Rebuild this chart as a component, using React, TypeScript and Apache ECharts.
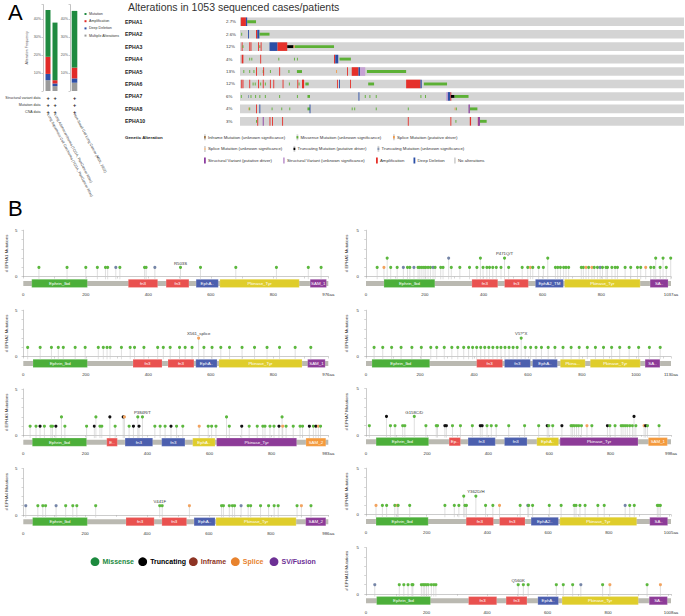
import React, { useEffect, useRef } from 'react';
import * as echarts from 'echarts';

const FONT = 'Liberation Sans, Arial, Helvetica, sans-serif';

// ---------------- Panel A: alteration frequency bars ----------------
const STUDIES = [
  'Lung Squamous Cell Carcinoma (TCGA, PanCancer Atlas)',
  'Lung Adenocarcinoma (TCGA, PanCancer Atlas)',
  'Non-Small Cell Lung Cancer (MSK, 2022)',
];
const FREQ_MULTI = [6.0, 2.7, 4.6];
const FREQ_DEL = [3.5, 1.5, 2.4];
const FREQ_AMP = [9.5, 1.8, 6.0];
const FREQ_MUT = [26.0, 32.0, 31.5];
const FREQ_LEGEND = ['Mutation', 'Amplification', 'Deep Deletion', 'Multiple Alterations'];
const DATA_ROWS = ['Structural variant data', 'Mutation data', 'CNA data'];

// ---------------- Panel A: oncoprint ----------------
const N_SAMPLES = 1053;
const ONCO_GENES = ['EPHA1', 'EPHA2', 'EPHA3', 'EPHA4', 'EPHA5', 'EPHA6', 'EPHA7', 'EPHA8', 'EPHA10'];
const ONCO_PCT = ['2.7%', '2.6%', '12%', '4%', '13%', '12%', '6%', '4%', '3%'];
// [startSample, endSample, type]
const ONCO_EPHA1 = [[2, 14, 'amp'], [14, 17, 'del'], [17, 38, 'mis']];
const ONCO_EPHA2 = [[3, 4, 'mis'], [19, 20, 'del'], [38, 41, 'amp'], [41, 46, 'del'], [46, 70, 'mis']];
const ONCO_EPHA3 = [[4, 5, 'amp'], [6, 7, 'mis'], [22, 23, 'amp'], [25, 26, 'amp'], [43, 44, 'amp'], [46, 47, 'mis'], [49, 50, 'amp'], [70, 89, 'del'], [89, 112, 'amp'], [112, 127, 'trunc'], [127, 130, 'splice'], [130, 223, 'mis']];
const ONCO_EPHA4 = [[4, 8, 'amp'], [22, 23, 'mis'], [27, 28, 'mis'], [48, 49, 'amp'], [91, 92, 'mis'], [128, 129, 'mis'], [135, 136, 'mis'], [223, 226, 'amp'], [226, 233, 'del'], [236, 263, 'mis']];
const ONCO_EPHA5 = [[8, 9, 'mis'], [22, 23, 'mis'], [32, 33, 'mis'], [38, 39, 'amp'], [54, 55, 'mis'], [55, 56, 'amp'], [71, 72, 'mis'], [93, 94, 'amp'], [115, 116, 'mis'], [135, 147, 'mis'], [228, 229, 'splice'], [254, 255, 'amp'], [265, 281, 'amp'], [281, 285, 'del'], [285, 297, 'sv2'], [301, 394, 'mis']];
const ONCO_EPHA6 = [[3, 4, 'amp'], [6, 7, 'amp'], [22, 23, 'amp'], [30, 31, 'mis'], [35, 36, 'mis'], [43, 44, 'amp'], [48, 49, 'mis'], [54, 55, 'amp'], [59, 60, 'mis'], [71, 72, 'amp'], [79, 80, 'amp'], [101, 102, 'amp'], [116, 117, 'mis'], [136, 137, 'amp'], [139, 140, 'mis'], [147, 152, 'amp'], [155, 163, 'mis'], [230, 231, 'amp'], [235, 236, 'del'], [261, 262, 'amp'], [304, 318, 'mis'], [394, 428, 'amp'], [428, 431, 'del'], [436, 491, 'mis']];
const ONCO_EPHA7 = [[2, 3, 'mis'], [19, 20, 'trunc2'], [25, 26, 'mis'], [36, 37, 'mis'], [46, 47, 'mis'], [59, 60, 'mis'], [93, 94, 'mis'], [135, 136, 'mis'], [160, 166, 'mis'], [281, 282, 'del'], [296, 297, 'mis'], [307, 308, 'mis'], [322, 323, 'mis'], [428, 429, 'mis'], [439, 440, 'mis'], [489, 493, 'sv2'], [493, 499, 'del'], [499, 500, 'amp'], [500, 509, 'trunc'], [509, 542, 'mis']];
const ONCO_EPHA8 = [[20, 21, 'splice'], [22, 23, 'mis'], [38, 39, 'amp'], [46, 47, 'del'], [75, 76, 'mis'], [98, 99, 'mis'], [117, 118, 'mis'], [160, 166, 'mis'], [165, 166, 'del'], [265, 266, 'mis'], [271, 272, 'mis'], [322, 323, 'mis'], [398, 399, 'mis'], [509, 510, 'splice'], [512, 513, 'mis'], [542, 545, 'sv'], [545, 563, 'mis']];
const ONCO_EPHA10 = [[38, 39, 'mis'], [41, 42, 'amp'], [54, 55, 'sv'], [70, 71, 'amp'], [76, 77, 'amp'], [100, 101, 'amp'], [398, 399, 'amp'], [499, 500, 'amp'], [511, 512, 'mis'], [545, 548, 'amp'], [564, 565, 'amp'], [565, 569, 'sv'], [569, 585, 'mis']];
const ONCO_EVENTS = [ONCO_EPHA1, ONCO_EPHA2, ONCO_EPHA3, ONCO_EPHA4, ONCO_EPHA5, ONCO_EPHA6, ONCO_EPHA7, ONCO_EPHA8, ONCO_EPHA10];

const ONCO_LEGEND = [
  [['inframe', 'Inframe Mutation (unknown significance)'], ['mis', 'Missense Mutation (unknown significance)'], ['splice', 'Splice Mutation (putative driver)']],
  [['splice2', 'Splice Mutation (unknown significance)'], ['trunc', 'Truncating Mutation (putative driver)'], ['trunc2', 'Truncating Mutation (unknown significance)']],
  [['sv', 'Structural Variant (putative driver)'], ['sv2', 'Structural Variant (unknown significance)'], ['amp', 'Amplification'], ['del', 'Deep Deletion'], ['none', 'No alterations']],
];
const ONCO_LEGEND_X = [[204, 296.5, 393], [204, 293.5, 377.5], [204, 283, 376, 413.5, 454]];

// ---------------- Panel B: lollipop plots ----------------
const LOLLI_GENES = ['EPHA1', 'EPHA2', 'EPHA3', 'EPHA4', 'EPHA5', 'EPHA6', 'EPHA7', 'EPHA8', 'EPHA10'];
const LOLLI_LEN = [976, 976, 983, 986, 1037, 1130, 998, 1005, 1008];

// mutations: [aa position, count, type]  (M missense, T truncating, S splice, O other)
const MUT_EPHA1 = [[50, 1, 'M'], [140, 1, 'M'], [200, 1, 'M'], [237, 1, 'M'], [263, 1, 'M'], [270, 1, 'M'], [296, 1, 'O'], [309, 1, 'M'], [388, 1, 'M'], [393, 1, 'M'], [421, 1, 'O'], [503, 1, 'M'], [567, 1, 'M'], [680, 1, 'M'], [810, 1, 'M'], [912, 1, 'M'], [953, 1, 'M']];
const MUT_EPHA2 = [[14, 1, 'M'], [54, 1, 'M'], [90, 1, 'M'], [112, 1, 'M'], [128, 1, 'M'], [166, 1, 'M'], [198, 1, 'M'], [240, 1, 'M'], [256, 1, 'M'], [268, 1, 'M'], [278, 1, 'M'], [314, 1, 'M'], [342, 1, 'M'], [356, 1, 'M'], [386, 1, 'M'], [430, 1, 'M'], [448, 1, 'M'], [470, 1, 'M'], [500, 1, 'M'], [518, 1, 'M'], [540, 1, 'M'], [561, 2, 'S'], [578, 1, 'M'], [604, 1, 'M'], [632, 1, 'M'], [660, 1, 'M'], [700, 1, 'M'], [740, 1, 'M'], [780, 1, 'M'], [820, 1, 'M'], [870, 1, 'M'], [920, 1, 'M']];
const MUT_EPHA3 = [[22, 1, 'M'], [41, 1, 'M'], [54, 1, 'T'], [68, 1, 'M'], [89, 1, 'M'], [94, 1, 'M'], [105, 1, 'T'], [123, 2, 'M'], [134, 1, 'M'], [204, 1, 'M'], [229, 1, 'T'], [234, 2, 'M'], [247, 1, 'M'], [253, 1, 'M'], [279, 2, 'T'], [296, 1, 'M'], [322, 2, 'T'], [326, 2, 'S'], [341, 1, 'M'], [355, 1, 'T'], [369, 2, 'M'], [373, 1, 'T'], [384, 2, 'M'], [424, 1, 'M'], [441, 1, 'M'], [457, 1, 'M'], [476, 1, 'T'], [494, 1, 'M'], [514, 1, 'M'], [567, 1, 'S'], [596, 1, 'M'], [607, 1, 'M'], [621, 1, 'M'], [655, 2, 'M'], [664, 1, 'M'], [704, 1, 'T'], [728, 1, 'M'], [754, 1, 'M'], [772, 1, 'M'], [779, 1, 'M'], [795, 1, 'M'], [808, 1, 'M'], [824, 1, 'T'], [834, 2, 'M'], [836, 1, 'S'], [847, 1, 'M'], [870, 1, 'M'], [892, 1, 'M'], [900, 1, 'M'], [922, 1, 'T'], [935, 1, 'M'], [943, 1, 'T'], [951, 1, 'S'], [958, 1, 'M']];
const MUT_EPHA4 = [[8, 1, 'O'], [47, 1, 'M'], [63, 1, 'M'], [72, 1, 'M'], [106, 1, 'O'], [137, 1, 'M'], [160, 1, 'M'], [173, 1, 'M'], [234, 1, 'M'], [441, 1, 'M'], [449, 1, 'M'], [537, 1, 'S'], [641, 1, 'M'], [647, 1, 'M'], [666, 1, 'M'], [676, 1, 'M'], [683, 1, 'M'], [704, 1, 'O'], [727, 1, 'M'], [735, 1, 'M'], [767, 1, 'M'], [793, 1, 'M'], [811, 1, 'M'], [824, 1, 'M'], [885, 1, 'M'], [899, 1, 'S'], [930, 1, 'M']];
const MUT_EPHA5 = [[38, 1, 'M'], [61, 1, 'S'], [72, 2, 'M'], [84, 1, 'M'], [106, 1, 'M'], [127, 1, 'O'], [141, 1, 'M'], [149, 1, 'M'], [163, 1, 'O'], [177, 1, 'M'], [183, 1, 'M'], [190, 1, 'M'], [197, 1, 'M'], [203, 1, 'M'], [211, 1, 'M'], [219, 1, 'M'], [228, 1, 'O'], [235, 1, 'M'], [254, 1, 'M'], [262, 1, 'M'], [281, 2, 'O'], [290, 1, 'M'], [319, 1, 'M'], [352, 1, 'M'], [377, 1, 'M'], [389, 2, 'M'], [398, 1, 'M'], [411, 1, 'M'], [420, 1, 'M'], [431, 1, 'M'], [443, 1, 'M'], [459, 1, 'M'], [471, 2, 'M'], [485, 1, 'M'], [531, 1, 'M'], [550, 1, 'M'], [559, 1, 'S'], [567, 1, 'M'], [587, 1, 'M'], [603, 1, 'M'], [618, 2, 'M'], [644, 1, 'M'], [652, 1, 'M'], [661, 1, 'M'], [672, 1, 'M'], [680, 1, 'M'], [689, 1, 'M'], [732, 1, 'M'], [739, 1, 'M'], [748, 1, 'S'], [757, 1, 'M'], [768, 1, 'S'], [776, 1, 'M'], [787, 1, 'M'], [796, 1, 'O'], [804, 1, 'M'], [816, 1, 'M'], [821, 1, 'M'], [836, 1, 'M'], [847, 1, 'M'], [855, 1, 'M'], [881, 1, 'M'], [900, 1, 'M'], [923, 1, 'M'], [934, 1, 'M'], [951, 1, 'S'], [968, 1, 'M'], [979, 1, 'M'], [985, 2, 'M'], [1000, 1, 'M'], [1010, 2, 'M'], [1021, 1, 'M'], [1036, 2, 'M']];
const MUT_EPHA6 = [[30, 1, 'M'], [62, 1, 'M'], [95, 1, 'M'], [130, 1, 'M'], [170, 1, 'M'], [205, 1, 'M'], [240, 1, 'M'], [262, 1, 'M'], [290, 1, 'M'], [318, 1, 'M'], [340, 1, 'M'], [362, 1, 'M'], [380, 1, 'M'], [395, 1, 'M'], [410, 1, 'M'], [425, 1, 'M'], [440, 1, 'M'], [455, 1, 'M'], [470, 1, 'M'], [486, 1, 'M'], [500, 1, 'M'], [515, 1, 'M'], [530, 1, 'M'], [545, 1, 'M'], [560, 1, 'M'], [575, 2, 'M'], [590, 1, 'M'], [610, 1, 'M'], [630, 1, 'M'], [650, 1, 'M'], [675, 1, 'M'], [700, 1, 'M'], [730, 1, 'M'], [760, 1, 'M'], [790, 1, 'M'], [820, 1, 'M'], [850, 1, 'M'], [880, 1, 'M'], [910, 1, 'M'], [940, 1, 'M'], [975, 1, 'M'], [1010, 1, 'M'], [1050, 1, 'M'], [1090, 1, 'M']];
const MUT_EPHA7 = [[11, 1, 'M'], [67, 2, 'T'], [80, 1, 'M'], [95, 1, 'M'], [120, 1, 'M'], [127, 1, 'M'], [158, 2, 'M'], [196, 1, 'M'], [230, 1, 'M'], [234, 1, 'M'], [258, 1, 'T'], [263, 1, 'T'], [283, 1, 'M'], [309, 1, 'M'], [348, 1, 'M'], [374, 1, 'T'], [380, 1, 'T'], [396, 1, 'M'], [410, 1, 'M'], [426, 1, 'M'], [467, 1, 'M'], [519, 1, 'M'], [565, 1, 'M'], [593, 1, 'T'], [598, 1, 'M'], [611, 1, 'M'], [641, 1, 'T'], [671, 1, 'M'], [676, 1, 'M'], [682, 1, 'M'], [689, 1, 'M'], [696, 1, 'M'], [705, 1, 'M'], [723, 1, 'S'], [739, 1, 'M'], [790, 1, 'T'], [798, 1, 'M'], [815, 1, 'M'], [835, 1, 'M'], [841, 1, 'M'], [848, 1, 'M'], [855, 1, 'M'], [863, 1, 'M'], [872, 1, 'M'], [877, 2, 'T'], [883, 1, 'M'], [910, 1, 'S'], [915, 1, 'T'], [921, 1, 'M'], [959, 1, 'M']];
const MUT_EPHA8 = [[33, 1, 'S'], [54, 1, 'M'], [68, 1, 'M'], [95, 1, 'M'], [103, 1, 'S'], [106, 1, 'M'], [144, 1, 'M'], [260, 1, 'M'], [291, 1, 'M'], [306, 1, 'M'], [322, 2, 'M'], [326, 1, 'M'], [331, 1, 'M'], [362, 2, 'M'], [394, 1, 'M'], [418, 1, 'M'], [440, 1, 'S'], [508, 1, 'M'], [533, 1, 'O'], [536, 1, 'M'], [549, 1, 'M'], [604, 1, 'M'], [643, 1, 'M'], [686, 1, 'M'], [692, 1, 'M'], [705, 1, 'M'], [722, 1, 'M'], [764, 1, 'M'], [785, 1, 'M'], [854, 1, 'O'], [869, 1, 'M'], [884, 1, 'M'], [960, 1, 'M'], [965, 1, 'M'], [970, 1, 'M']];
const MUT_EPHA10 = [[29, 1, 'O'], [110, 1, 'M'], [125, 1, 'M'], [139, 1, 'M'], [152, 1, 'M'], [155, 1, 'M'], [183, 1, 'M'], [189, 1, 'M'], [194, 1, 'M'], [200, 1, 'M'], [206, 1, 'M'], [216, 1, 'M'], [224, 1, 'M'], [231, 1, 'M'], [503, 1, 'M'], [520, 1, 'M'], [536, 1, 'M'], [629, 1, 'M'], [652, 1, 'M'], [683, 1, 'M'], [710, 1, 'O'], [782, 1, 'M'], [806, 1, 'S'], [929, 1, 'M'], [973, 1, 'S']];
const LOLLI_MUTS = [MUT_EPHA1, MUT_EPHA2, MUT_EPHA3, MUT_EPHA4, MUT_EPHA5, MUT_EPHA6, MUT_EPHA7, MUT_EPHA8, MUT_EPHA10];

// hotspot labels: [aa, count, text]
const LOLLI_LABELS = [
  [[503, 1, 'R503S']], [[561, 2, 'X561_splice']], [[384, 2, 'P384R/T']], [[441, 1, 'V441F']],
  [[471, 2, 'P471Q/T']], [[575, 2, 'V5?*X']], [[158, 2, 'G158C/D']], [[362, 2, 'Y362D/H']], [[503, 1, 'Q560K']],
];

// domains: [start, end, name, colour key]
const DOM_EPHA1 = [[27, 205, 'Ephrin_lbd', 'G'], [336, 430, 'fn3', 'R'], [457, 530, 'fn3', 'R'], [553, 624, 'EphA..', 'B'], [629, 883, 'Pkinase_Tyr', 'Y'], [918, 970, 'SAM_1', 'P']];
const DOM_EPHA2 = [[31, 205, 'Ephrin_lbd', 'G'], [351, 444, 'fn3', 'R'], [463, 546, 'fn3', 'R'], [552, 620, 'EphA..', 'B'], [626, 892, 'Pkinase_Tyr', 'Y'], [910, 966, 'SAM_1', 'P']];
const DOM_EPHA3 = [[29, 204, 'Ephrin_lbd', 'G'], [269, 303, 'E..', 'R'], [328, 417, 'fn3', 'B'], [446, 521, 'fn3', 'B'], [546, 618, 'EphA..', 'Y'], [623, 881, 'Pkinase_Tyr', 'P'], [911, 975, 'SAM_2', 'O']];
const DOM_EPHA4 = [[30, 207, 'Ephrin_lbd', 'G'], [332, 423, 'fn3', 'R'], [448, 528, 'fn3', 'R'], [552, 620, 'EphA..', 'B'], [623, 882, 'Pkinase_Tyr', 'Y'], [913, 978, 'SAM_2', 'P']];
const DOM_EPHA5 = [[61, 234, 'Ephrin_lbd', 'G'], [360, 448, 'fn3', 'R'], [471, 552, 'fn3', 'R'], [576, 671, 'EphA2_TM', 'B'], [675, 932, 'Pkinase_Tyr', 'Y'], [966, 1027, 'SA..', 'P']];
const DOM_EPHA6 = [[22, 236, 'Ephrin_lbd', 'G'], [410, 506, 'fn3', 'R'], [513, 609, 'fn3', 'B'], [617, 709, 'EphA..', 'B'], [720, 812, 'Pkina...', 'Y'], [831, 1016, 'Pkinase_Tyr', 'Y'], [1034, 1089, 'SA..', 'P']];
const DOM_EPHA7 = [[33, 205, 'Ephrin_lbd', 'G'], [272, 309, 'Ep..', 'R'], [334, 423, 'fn3', 'B'], [453, 527, 'fn3', 'B'], [559, 630, 'EphA..', 'Y'], [635, 890, 'Pkinase_Tyr', 'P'], [924, 986, 'SAM_1', 'O']];
const DOM_EPHA8 = [[33, 205, 'Ephrin_lbd', 'G'], [330, 420, 'fn3', 'R'], [440, 524, 'fn3', 'R'], [544, 634, 'EphA2..', 'B'], [639, 892, 'Pkinase_Tyr', 'Y'], [935, 994, 'SA..', 'P']];
const DOM_EPHA10 = [[35, 213, 'Ephrin_lbd', 'G'], [339, 432, 'fn3', 'R'], [463, 532, 'fn3', 'R'], [568, 636, 'EphA..', 'B'], [648, 900, 'Pkinase_Tyr', 'Y'], [936, 996, 'SA..', 'P']];
const LOLLI_DOMAINS = [DOM_EPHA1, DOM_EPHA2, DOM_EPHA3, DOM_EPHA4, DOM_EPHA5, DOM_EPHA6, DOM_EPHA7, DOM_EPHA8, DOM_EPHA10];

const MUT_LEGEND = [['Missense', '#1c8a3e'], ['Truncating', '#000000'], ['Inframe', '#8e3424'], ['Splice', '#e8832e'], ['SV/Fusion', '#6d3095']];
const MUT_LEGEND_X = [95, 142.7, 193.3, 235.3, 274];

// ---------------- styles ----------------
const ONCO_COL: Record<string, string> = {
  amp: '#e5302a', del: '#2b4ea6', mis: '#5cb035', trunc: '#000000', trunc2: '#8796b3', splice: '#f29b4c',
  splice2: '#f5c79b', sv: '#8c3da0', sv2: '#c6a2d4', inframe: '#a0784a', none: '#d4d4d4',
};
const FULL_TYPES = ['amp', 'del', 'sv', 'sv2', 'none'];
const DOM_COL: Record<string, string> = { G: '#4caf3a', R: '#e9514f', B: '#4c5fae', Y: '#dfcd2b', P: '#8d3b98', O: '#f49a3d' };
const HEAD_COL: Record<string, string> = { M: '#5cb83e', T: '#111111', S: '#f2a35f', O: '#7585a7' };

const LEFT_X = 23.3;
const RIGHT_X = 366;
const PANEL_W = 305;
const UNIT_PX = 9.3;
const ZERO_Y = [276.7, 356.7, 435.5, 515, 276.7, 356.7, 435, 514.7, 594];

export default function App() {
  const ref = useRef<HTMLDivElement>(null);

  useEffect(() => {
    if (!ref.current) return;
    const chart = echarts.init(ref.current, undefined, { renderer: 'svg' });

    const grids: any[] = [];
    const xAxes: any[] = [];
    const yAxes: any[] = [];
    const series: any[] = [];
    const axisTxt = { fontSize: 4.3, color: '#333', fontFamily: FONT };

    // ---- bar grids (panel A) ----
    const barTop = 91 - 0.48 * 180;
    grids.push({ left: 44.5, top: barTop, width: 14, height: 91 - barTop });
    grids.push({ left: 71, top: barTop, width: 7, height: 91 - barTop });
    [[0, 1], [2]].forEach((idx, g) => {
      xAxes.push({
        type: 'category', gridIndex: g, data: idx.map((i) => STUDIES[i]),
        axisLine: { show: false }, axisTick: { show: false },
        axisLabel: { rotate: -62, margin: 23, fontSize: 3.6, color: '#333', fontFamily: FONT, interval: 0 },
      });
      yAxes.push({
        type: 'value', gridIndex: g, position: 'left', min: 0, max: 48, interval: 10, offset: g === 0 ? 1.5 : 1,
        axisLine: { show: true, lineStyle: { color: '#999', width: 0.6 } },
        axisTick: { show: true, length: 1.5, lineStyle: { color: '#999', width: 0.5 } },
        splitLine: { show: false },
        axisLabel: { fontSize: 3.6, color: '#555', fontFamily: FONT, margin: 2, formatter: (v: number) => (v === 0 || v > 45 ? '' : v + '%') },
        name: g === 0 ? 'Alteration Frequency' : '', nameLocation: 'middle', nameGap: 14,
        nameTextStyle: { fontSize: 3.6, color: '#555', fontFamily: FONT },
      });
      const stacks: [number[], string][] = [
        [FREQ_MULTI, '#9a9a9a'], [FREQ_DEL, '#2e4fa6'], [FREQ_AMP, '#e12a28'], [FREQ_MUT, '#1f8a40'],
      ];
      stacks.forEach(([vals, col]) => {
        series.push({
          type: 'bar', xAxisIndex: g, yAxisIndex: g, stack: 'f' + g, barWidth: g === 0 ? 5 : 5.6,
          data: idx.map((i) => vals[i]), itemStyle: { color: col }, silent: true,
        });
      });
      // data availability markers
      series.push({
        type: 'custom', xAxisIndex: g, yAxisIndex: g, clip: false, silent: true,
        data: idx.flatMap((_, k) => DATA_ROWS.map((__, r) => [k, r])),
        renderItem: (_p: any, api: any) => {
          const c = api.coord([api.value(0), 0]);
          return { type: 'text', style: { x: c[0], y: c[1] + 6.5 + api.value(1) * 7, text: '+', fontSize: 5.5, fontWeight: 'bold', fill: '#222', align: 'center', verticalAlign: 'middle', fontFamily: FONT } };
        },
      });
    });

    // ---- oncoprint grid ----
    const oncoG = grids.length;
    grids.push({ left: 240, top: 15.5, width: 444, height: 9 * 12.45 });
    xAxes.push({ type: 'value', gridIndex: oncoG, min: 0, max: N_SAMPLES, show: false });
    const oncoY = yAxes.length;
    yAxes.push({
      type: 'category', gridIndex: oncoG, position: 'left', data: ONCO_GENES, inverse: true,
      axisLine: { show: false }, axisTick: { show: false },
      axisLabel: { margin: 115, align: 'left', fontSize: 5.2, fontWeight: 'bold', color: '#222', fontFamily: FONT },
    });
    yAxes.push({
      type: 'category', gridIndex: oncoG, position: 'left', offset: 0, data: ONCO_GENES, inverse: true,
      axisLine: { show: false }, axisTick: { show: false },
      axisLabel: { margin: 14, align: 'left', fontSize: 4.4, color: '#333', fontFamily: FONT, formatter: (_v: string, i: number) => ONCO_PCT[i] },
    });
    const oncoData: any[] = [];
    ONCO_GENES.forEach((_, gi) => oncoData.push([0, N_SAMPLES, gi, 'none']));
    ONCO_EVENTS.forEach((evs, gi) => evs.forEach((e: any) => oncoData.push([e[0], e[1], gi, e[2]])));
    series.push({
      type: 'custom', xAxisIndex: xAxes.length - 1, yAxisIndex: oncoY, silent: true, clip: false,
      data: oncoData.map((d) => [d[0], d[1], d[2]]),
      renderItem: (p: any, api: any) => {
        const d = oncoData[p.dataIndex];
        const s = api.coord([d[0], d[2]]);
        const e = api.coord([d[1], d[2]]);
        const full = FULL_TYPES.includes(d[3]);
        const h = full ? 8.6 : 2.9;
        const w = Math.max(e[0] - s[0], d[3] === 'none' ? 0 : 0.9);
        return { type: 'rect', shape: { x: s[0], y: s[1] - h / 2, width: w, height: h }, style: { fill: ONCO_COL[d[3]] } };
      },
    });

    // ---- lollipop grids (panel B) ----
    LOLLI_GENES.forEach((gene, gi) => {
      const right = gi >= 4;
      const len = LOLLI_LEN[gi];
      const zero = ZERO_Y[gi];
      const g = grids.length;
      grids.push({ left: right ? RIGHT_X : LEFT_X, top: zero - 5 * UNIT_PX, width: PANEL_W, height: 5 * UNIT_PX });
      const xi = xAxes.length;
      xAxes.push({
        type: 'value', gridIndex: g, min: 0, max: len, interval: 100, offset: 14,
        axisLine: { show: true, lineStyle: { color: '#aaa', width: 0.6 } },
        axisTick: { show: true, length: 1.8, lineStyle: { color: '#aaa', width: 0.5 } },
        splitLine: { show: false },
        axisLabel: { ...axisTxt, margin: 2, interval: 0, showMaxLabel: true, formatter: (v: number) => (v === len ? len + 'aa' : v % 200 === 0 && len - v > 60 ? String(v) : '') },
      });
      const yi = yAxes.length;
      yAxes.push({
        type: 'value', gridIndex: g, position: 'left', min: 0, max: 5, interval: 1, offset: right ? 5 : 4,
        axisLine: { show: true, lineStyle: { color: '#aaa', width: 0.6 } },
        axisTick: { show: true, length: 1.8, lineStyle: { color: '#aaa', width: 0.5 } },
        splitLine: { show: false },
        axisLabel: { ...axisTxt, margin: 2, formatter: (v: number) => (v === 0 || v === 5 ? String(v) : '') },
        name: '# ' + gene + ' Mutations', nameLocation: 'middle', nameGap: right ? 13 : 11,
        nameTextStyle: { ...axisTxt },
      });
      // backbone
      series.push({
        type: 'custom', xAxisIndex: xi, yAxisIndex: yi, clip: false, silent: true, data: [[0, len]],
        renderItem: (_p: any, api: any) => {
          const s = api.coord([api.value(0), 0]);
          const e = api.coord([api.value(1), 0]);
          return { type: 'rect', shape: { x: s[0], y: s[1] + 4.3, width: e[0] - s[0], height: 5 }, style: { fill: '#bab9b1' } };
        },
      });
      const doms = LOLLI_DOMAINS[gi];
      series.push({
        type: 'custom', xAxisIndex: xi, yAxisIndex: yi, clip: false, silent: true,
        data: doms.map((d: any) => [d[0], d[1]]),
        renderItem: (p: any, api: any) => {
          const d: any = doms[p.dataIndex];
          const s = api.coord([api.value(0), 0]);
          const e = api.coord([api.value(1), 0]);
          return {
            type: 'group', children: [
              { type: 'rect', shape: { x: s[0], y: s[1] + 2.6, width: e[0] - s[0], height: 8.2 }, style: { fill: DOM_COL[d[3]], stroke: 'rgba(255,255,255,0.35)', lineWidth: 0.5 } },
              { type: 'text', style: { x: (s[0] + e[0]) / 2, y: s[1] + 6.8, text: d[2], fontSize: 4.4, fill: '#fff', align: 'center', verticalAlign: 'middle', fontFamily: FONT } },
            ],
          };
        },
      });
      const muts = LOLLI_MUTS[gi];
      series.push({
        type: 'custom', xAxisIndex: xi, yAxisIndex: yi, clip: false, silent: true,
        data: muts.map((m: any) => [m[0], m[1]]),
        renderItem: (p: any, api: any) => {
          const m: any = muts[p.dataIndex];
          const b = api.coord([api.value(0), 0]);
          const t = api.coord([api.value(0), api.value(1)]);
          return {
            type: 'group', children: [
              { type: 'line', shape: { x1: b[0], y1: b[1] + 2.6, x2: t[0], y2: t[1] }, style: { stroke: '#c9c9c9', lineWidth: 0.6 } },
              { type: 'circle', shape: { cx: t[0], cy: t[1], r: 1.55 }, style: { fill: HEAD_COL[m[2]] } },
            ],
          };
        },
      });
      const labs = LOLLI_LABELS[gi];
      series.push({
        type: 'custom', xAxisIndex: xi, yAxisIndex: yi, clip: false, silent: true,
        data: labs.map((l: any) => [l[0], l[1]]),
        renderItem: (p: any, api: any) => {
          const t = api.coord([api.value(0), api.value(1)]);
          return { type: 'text', style: { x: t[0], y: t[1] - 4.2, text: (labs[p.dataIndex] as any)[2], fontSize: 4.3, fill: '#333', align: 'center', verticalAlign: 'middle', fontFamily: FONT } };
        },
      });
    });

    // ---- graphic: letters, titles, legends ----
    const graphic: any[] = [
      { type: 'text', x: 8, y: 12, style: { text: 'A', fontSize: 22, fill: '#000', verticalAlign: 'middle', fontFamily: FONT } },
      { type: 'text', x: 8, y: 208.5, style: { text: 'B', fontSize: 22, fill: '#000', verticalAlign: 'middle', fontFamily: FONT } },
      { type: 'text', x: 128, y: 7, style: { text: 'Alterations in 1053 sequenced cases/patients', fontSize: 10.5, fill: '#333', verticalAlign: 'middle', fontFamily: FONT } },
      { type: 'text', x: 125, y: 137.3, style: { text: 'Genetic Alteration', fontSize: 4.4, fontWeight: 'bold', fill: '#222', verticalAlign: 'middle', fontFamily: FONT } },
    ];
    const legCols = ['#1f8a40', '#e12a28', '#2e4fa6', '#9a9a9a'];
    FREQ_LEGEND.forEach((t, i) => {
      graphic.push({ type: 'rect', shape: { x: 84.5, y: 13 + i * 7.2, width: 2, height: 2 }, style: { fill: legCols[i] } });
      graphic.push({ type: 'text', x: 89, y: 14 + i * 7.2, style: { text: t, fontSize: 3.6, fill: '#333', verticalAlign: 'middle', fontFamily: FONT } });
    });
    DATA_ROWS.forEach((t, i) => {
      graphic.push({ type: 'text', x: 40.5, y: 97.5 + i * 7, style: { text: t, fontSize: 3.6, fill: '#333', align: 'right', verticalAlign: 'middle', fontFamily: FONT } });
    });
    ONCO_LEGEND.forEach((row, r) => {
      row.forEach(([k, t], c) => {
        const x = ONCO_LEGEND_X[r][c];
        const y = 137.3 + r * 11.6;
        const full = FULL_TYPES.includes(k);
        if (full) {
          graphic.push({ type: 'rect', shape: { x, y: y - 3, width: 1.8, height: 6 }, style: { fill: ONCO_COL[k] } });
        } else {
          graphic.push({ type: 'rect', shape: { x, y: y - 3, width: 1.8, height: 6 }, style: { fill: '#d4d4d4' } });
          graphic.push({ type: 'rect', shape: { x, y: y - 1.2, width: 1.8, height: 2.4 }, style: { fill: ONCO_COL[k] } });
        }
        graphic.push({ type: 'text', x: x + 4, y, style: { text: t, fontSize: 4.3, fill: '#333', verticalAlign: 'middle', fontFamily: FONT } });
      });
    });
    MUT_LEGEND.forEach(([t, col], i) => {
      const x = MUT_LEGEND_X[i];
      graphic.push({ type: 'circle', shape: { cx: x, cy: 561.7, r: 4.4 }, style: { fill: col } });
      graphic.push({ type: 'text', x: x + 7.5, y: 561.7, style: { text: t, fontSize: 7, fontWeight: 'bold', fill: col, verticalAlign: 'middle', fontFamily: FONT } });
    });

    chart.setOption({
      animation: false,
      backgroundColor: '#ffffff',
      textStyle: { fontFamily: FONT },
      grid: grids,
      xAxis: xAxes,
      yAxis: yAxes,
      series,
      graphic,
    });
    return () => chart.dispose();
  }, []);

  return <div ref={ref} style={{ position: 'fixed', left: 0, top: 0, width: 685, height: 616 }} />;
}
